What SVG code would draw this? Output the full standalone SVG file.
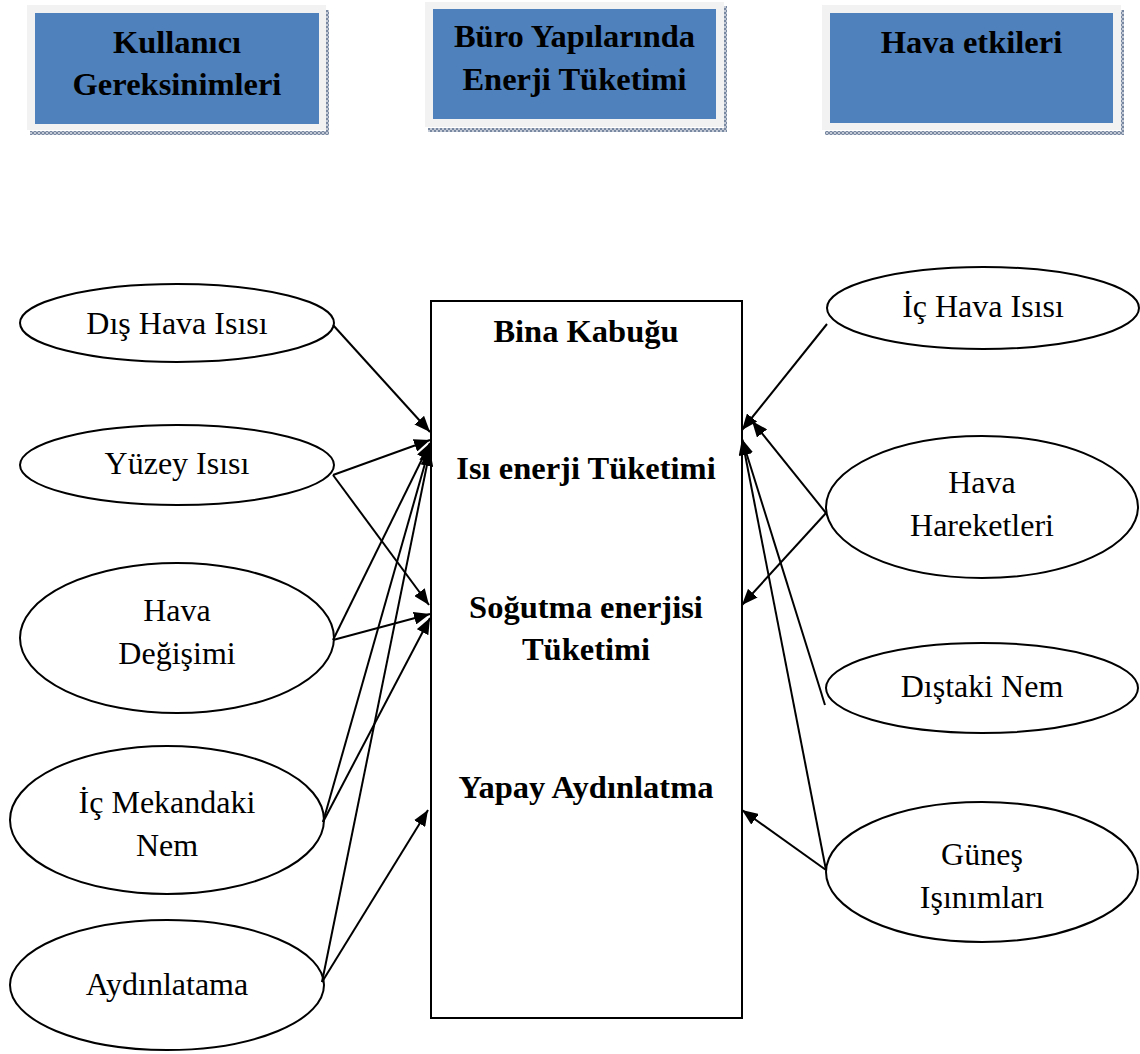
<svg xmlns="http://www.w3.org/2000/svg" width="1140" height="1054" viewBox="0 0 1140 1054">
<style>
.frame{fill:#f2f2f2;}
.blue{fill:#4f81bd;}
.hatch{fill:url(#hatch);}
.title{font-family:"Liberation Serif","Times New Roman",serif;font-weight:bold;font-size:32.5px;fill:#000;text-anchor:middle;}
.bold{font-family:"Liberation Serif","Times New Roman",serif;font-weight:bold;font-size:32.5px;fill:#000;text-anchor:middle;}
.reg{font-family:"Liberation Serif","Times New Roman",serif;font-size:32px;fill:#000;text-anchor:middle;}
.ell{fill:#fff;stroke:#000;stroke-width:2;}
.main{fill:#fff;stroke:#000;stroke-width:2;}
.conn line{stroke:#000;stroke-width:2;marker-end:url(#arr);}
</style>
<defs>
<pattern id="hatch" width="4" height="4" patternUnits="userSpaceOnUse">
<rect width="4" height="4" fill="#c3cad6"/>
<rect width="2" height="2" fill="#7888a0"/>
<rect x="2" y="2" width="2" height="2" fill="#7888a0"/>
</pattern>
<marker id="arr" markerUnits="userSpaceOnUse" markerWidth="16" markerHeight="13" refX="16" refY="6.5" orient="auto">
<path d="M0,0 L16,6.5 L0,13 z" fill="#000"/>
</marker>
</defs>
<rect width="1140" height="1054" fill="#fff"/>

<g id="box-kullanici">
<rect class="hatch" x="30" y="131" width="298" height="4"/>
<rect class="hatch" x="326" y="10" width="3" height="125"/>
<rect class="frame" x="27" y="5" width="299" height="125"/>
<rect class="blue" x="35" y="13" width="284" height="111"/>
<text class="title" x="177" y="53">Kullanıcı</text>
<text class="title" x="177" y="95">Gereksinimleri</text>
</g>
<g id="box-buro">
<rect class="hatch" x="428" y="128" width="298" height="4"/>
<rect class="hatch" x="724" y="6" width="3" height="126"/>
<rect class="frame" x="425" y="2" width="299" height="125"/>
<rect class="blue" x="433" y="9" width="283" height="110"/>
<text class="title" x="574.5" y="47">Büro Yapılarında</text>
<text class="title" x="574.5" y="90">Enerji Tüketimi</text>
</g>
<g id="box-hava-etkileri">
<rect class="hatch" x="825" y="131" width="298" height="4"/>
<rect class="hatch" x="1121" y="10" width="3" height="125"/>
<rect class="frame" x="822" y="5" width="299" height="125"/>
<rect class="blue" x="830" y="13" width="283" height="110"/>
<text class="title" x="971.5" y="53">Hava etkileri</text>
</g>

<g id="bina-kabugu">
<rect class="main" x="431" y="301" width="311" height="717"/>
<text class="bold" x="586" y="342">Bina Kabuğu</text>
<text class="bold" x="586" y="479">Isı enerji Tüketimi</text>
<text class="bold" x="586" y="618">Soğutma enerjisi</text>
<text class="bold" x="586" y="660">Tüketimi</text>
<text class="bold" x="586" y="798">Yapay Aydınlatma</text>
</g>

<g id="dis-hava-isisi">
<ellipse class="ell" cx="177" cy="323" rx="157" ry="39"/>
<text class="reg" x="177" y="334">Dış Hava Isısı</text>
</g>
<g id="yuzey-isisi">
<ellipse class="ell" cx="177" cy="465" rx="157" ry="40"/>
<text class="reg" x="177" y="474">Yüzey Isısı</text>
</g>
<g id="hava-degisimi">
<ellipse class="ell" cx="177" cy="638" rx="157" ry="75"/>
<text class="reg" x="177" y="621">Hava</text>
<text class="reg" x="177" y="664">Değişimi</text>
</g>
<g id="ic-mekandaki-nem">
<ellipse class="ell" cx="167" cy="820" rx="157" ry="74"/>
<text class="reg" x="167" y="813">İç Mekandaki</text>
<text class="reg" x="167" y="856">Nem</text>
</g>
<g id="aydinlatama">
<ellipse class="ell" cx="167" cy="985" rx="157" ry="65"/>
<text class="reg" x="167" y="995">Aydınlatama</text>
</g>

<g id="ic-hava-isisi">
<ellipse class="ell" cx="983" cy="308" rx="156" ry="41"/>
<text class="reg" x="983" y="317">İç Hava Isısı</text>
</g>
<g id="hava-hareketleri">
<ellipse class="ell" cx="982" cy="507" rx="156" ry="71"/>
<text class="reg" x="982" y="493">Hava</text>
<text class="reg" x="982" y="536">Hareketleri</text>
</g>
<g id="distaki-nem">
<ellipse class="ell" cx="982" cy="688" rx="156" ry="45"/>
<text class="reg" x="982" y="697">Dıştaki Nem</text>
</g>
<g id="gunes-isinimlari">
<ellipse class="ell" cx="982" cy="872" rx="156" ry="70"/>
<text class="reg" x="982" y="865">Güneş</text>
<text class="reg" x="982" y="908">Işınımları</text>
</g>

<g id="connectors" class="conn">
<line x1="333" y1="325" x2="430" y2="432"/>
<line x1="333" y1="475" x2="430" y2="440"/>
<line x1="333" y1="475" x2="429" y2="605"/>
<line x1="333" y1="640" x2="430" y2="443"/>
<line x1="333" y1="640" x2="430" y2="614"/>
<line x1="323" y1="822" x2="430" y2="446"/>
<line x1="323" y1="822" x2="430" y2="618"/>
<line x1="322" y1="982" x2="430" y2="450"/>
<line x1="322" y1="982" x2="428" y2="810"/>
<line x1="827" y1="324" x2="742" y2="430"/>
<line x1="826" y1="513" x2="752" y2="421"/>
<line x1="826" y1="513" x2="742" y2="605"/>
<line x1="825" y1="705" x2="742" y2="439"/>
<line x1="826" y1="870" x2="742" y2="439"/>
<line x1="826" y1="870" x2="742" y2="810"/>
</g>
</svg>
